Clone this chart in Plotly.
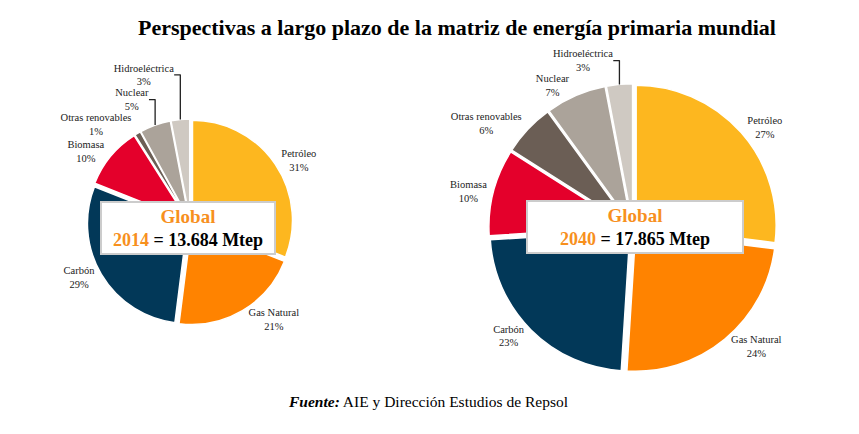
import plotly.graph_objects as go

fuentes = ["Petróleo", "Gas Natural", "Carbón", "Biomasa",
           "Otras renovables", "Nuclear", "Hidroeléctrica"]
cuota_2014 = [31, 21, 29, 10, 1, 5, 3]
cuota_2040 = [27, 24, 23, 10, 6, 7, 3]
colores = ["#FDB71F", "#FF8300", "#023858", "#E4002B",
           "#6B5E55", "#ABA39A", "#CFC9C2"]
totales = {"2014": "13.684", "2040": "17.865"}

serif = "Liberation Serif, Times New Roman, serif"
naranja = "#F7901E"

fig = go.Figure()

# pie 2014 (izquierda) y 2040 (derecha)
for vals, dom in [(cuota_2014, dict(x=[0.1013, 0.3411], y=[0.2512, 0.7258])),
                  (cuota_2040, dict(x=[0.569, 0.9048], y=[0.1424, 0.807]))]:
    fig.add_trace(go.Pie(
        labels=fuentes,
        values=vals,
        sort=False,
        direction="clockwise",
        rotation=0,
        pull=[0.03] * len(vals),
        marker=dict(colors=colores, line=dict(color="white", width=1.5)),
        texttemplate="%{label}<br>%{value}%",
        textposition="outside",
        textfont=dict(family=serif, size=10.5, color="#222222"),
        domain=dom,
        showlegend=False,
        hoverinfo="label+value",
    ))

# cajas centrales
for anio, cx, cy, ancho in [("2014", 188, 227.5, 166), ("2040", 635, 227, 208)]:
    fig.add_annotation(
        x=cx / 859, y=1 - cy / 434, xref="paper", yref="paper",
        xanchor="center", yanchor="middle",
        text=(f"<b><span style='color:{naranja};font-size:19px'>Global</span><br>"
              f"<span style='color:{naranja}'>{anio}</span> = {totales[anio]} Mtep</b>"),
        showarrow=False,
        width=ancho, height=44,
        font=dict(family=serif, size=18, color="black"),
        bgcolor="white",
        bordercolor="#CCCCCC",
        borderwidth=2,
        borderpad=3,
        align="center",
        valign="middle",
    )

fig.add_annotation(
    x=456.5 / 859, y=1 - 28 / 434, xref="paper", yref="paper",
    xanchor="center", yanchor="middle",
    text="<b>Perspectivas a largo plazo de la matriz de energía primaria mundial</b>",
    showarrow=False,
    font=dict(family=serif, size=22, color="black"),
)

fig.add_annotation(
    x=427.5 / 859, y=1 - 401 / 434, xref="paper", yref="paper",
    xanchor="center", yanchor="middle",
    text="<b><i>Fuente:</i></b> AIE y Dirección Estudios de Repsol",
    showarrow=False,
    font=dict(family=serif, size=15.5, color="black"),
)

fig.update_layout(
    width=859, height=434,
    margin=dict(l=0, r=0, t=0, b=0),
    paper_bgcolor="white",
)

# sin el margen por defecto del <body> y sin barra de herramientas
fig.write_html("out.html", config={"displayModeBar": False},
               post_script="document.body.style.margin='0';")
